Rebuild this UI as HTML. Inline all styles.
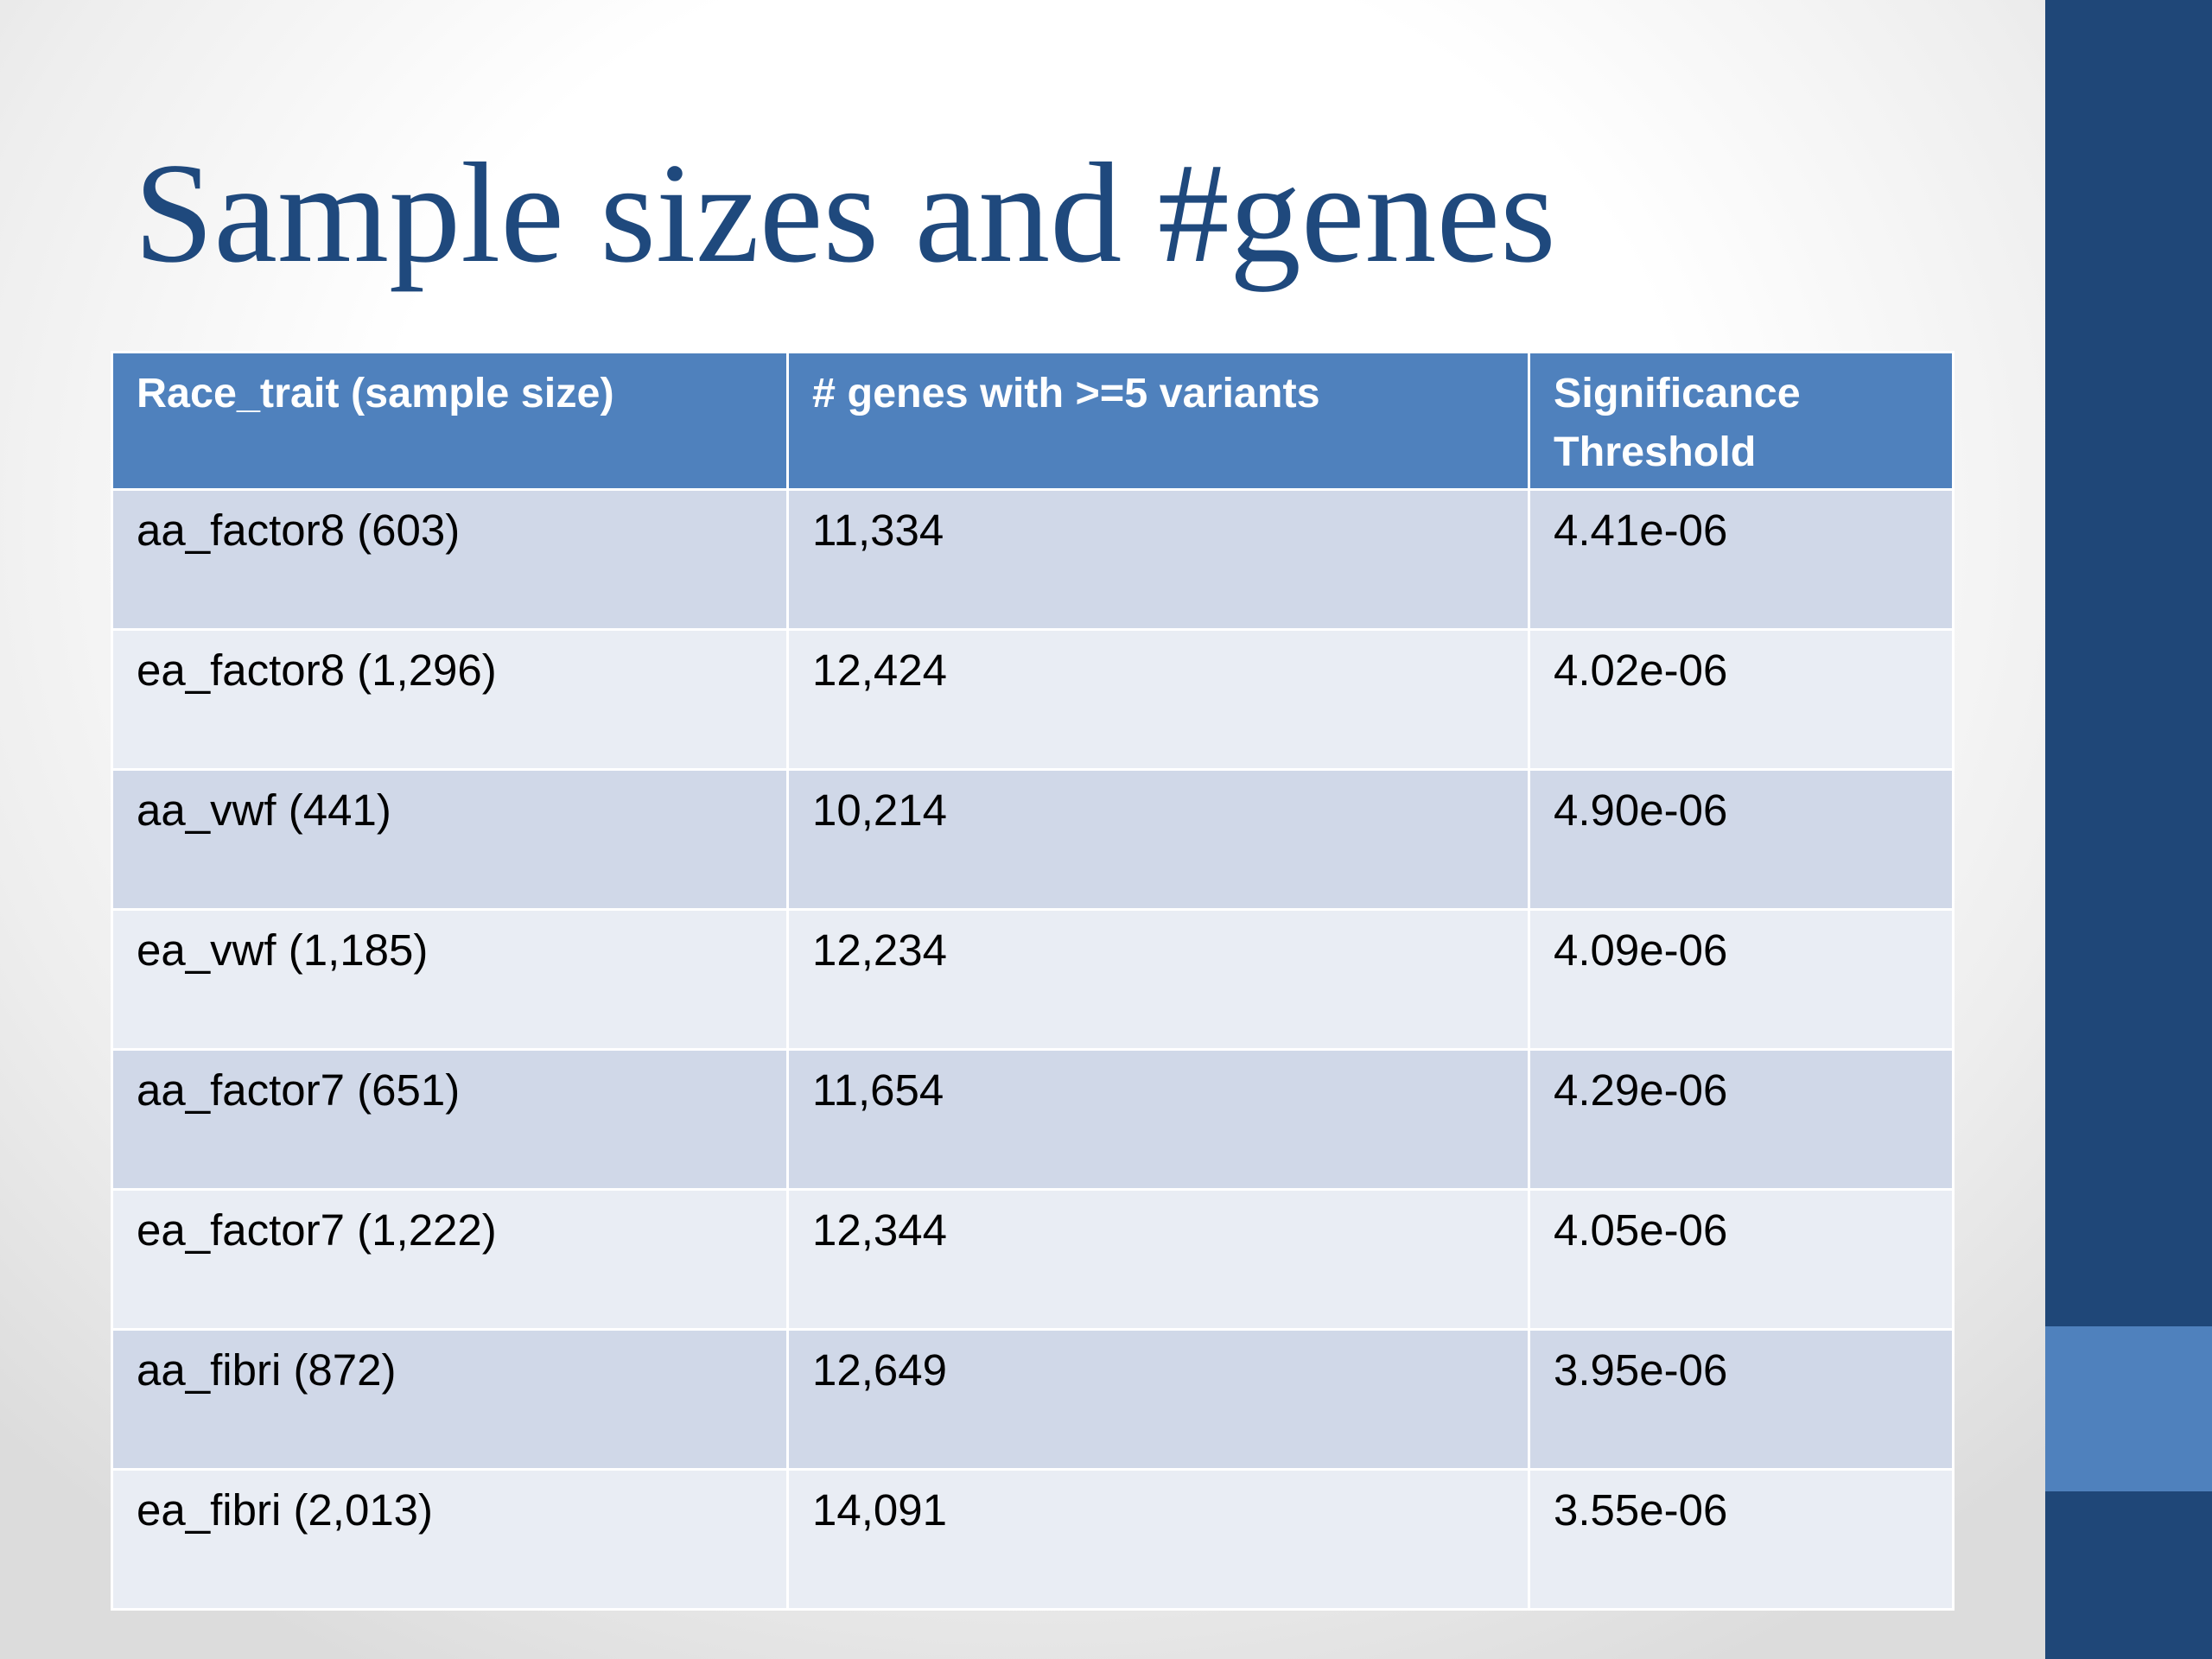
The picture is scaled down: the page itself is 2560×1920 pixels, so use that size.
<!DOCTYPE html>
<html><head><meta charset="utf-8"><style>
body{margin:0;width:2560px;height:1920px;overflow:hidden;position:relative;font-family:"Liberation Sans",sans-serif;
background:radial-gradient(ellipse 1700px 1500px at 1200px 600px,#ffffff 45%,#eeeeee 75%,#dcdcdc 100%);}
#bar{position:absolute;left:2367px;top:0;width:193px;height:1920px;background:#1f4778;}
#bar2{position:absolute;left:2367px;top:1535px;width:193px;height:191px;background:#4f81bd;}
h1{position:absolute;left:155px;top:163px;margin:0;font:normal 166px/1 "Liberation Serif",serif;color:#1f497d;white-space:nowrap;}
table{position:absolute;left:128px;top:406px;width:2134px;border-collapse:collapse;}
td,th{border:3px solid #fff;text-align:left;vertical-align:top;padding:12px 0 0 27px;line-height:68px;}
th{background:#4f81bd;color:#fff;height:144px;font-weight:bold;font-size:48.5px;}
tr.o td{background:#d0d8e8;}tr.e td{background:#e9edf4;}
td{height:147px;color:#000;font-size:51px;}
</style></head><body>
<div id="bar"></div>
<div id="bar2"></div>
<h1>Sample sizes and #genes</h1>
<table>
<tr><th style="width:752px">Race_trait (sample size)</th><th style="width:828px"># genes with &gt;=5 variants</th><th>Significance<br>Threshold</th></tr>
<tr class="o"><td>aa_factor8 (603)</td><td>11,334</td><td>4.41e-06</td></tr>
<tr class="e"><td>ea_factor8 (1,296)</td><td>12,424</td><td>4.02e-06</td></tr>
<tr class="o"><td>aa_vwf (441)</td><td>10,214</td><td>4.90e-06</td></tr>
<tr class="e"><td>ea_vwf (1,185)</td><td>12,234</td><td>4.09e-06</td></tr>
<tr class="o"><td>aa_factor7 (651)</td><td>11,654</td><td>4.29e-06</td></tr>
<tr class="e"><td>ea_factor7 (1,222)</td><td>12,344</td><td>4.05e-06</td></tr>
<tr class="o"><td>aa_fibri (872)</td><td>12,649</td><td>3.95e-06</td></tr>
<tr class="e"><td>ea_fibri (2,013)</td><td>14,091</td><td>3.55e-06</td></tr>
</table>
</body></html>
